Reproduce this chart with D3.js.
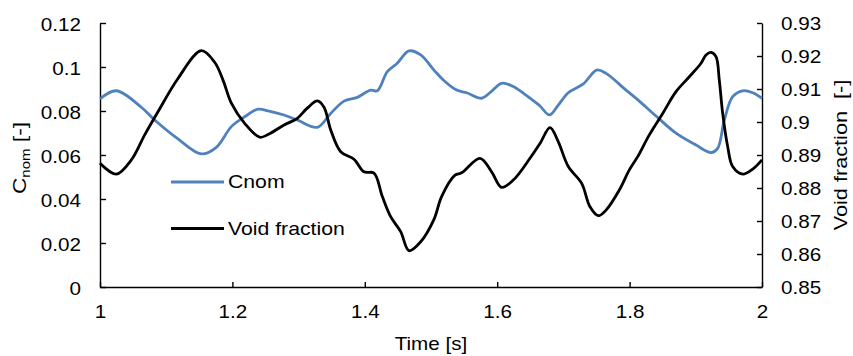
<!DOCTYPE html>
<html>
<head>
<meta charset="utf-8">
<script src="https://cdn.jsdelivr.net/npm/d3@7"></script>
<style>
  body { margin: 0; background: #fff; }
  svg text { font-family: "Liberation Sans", Arial, sans-serif; fill: #000; white-space: pre; }
</style>
</head>
<body>
<svg id="chart" width="853" height="356"></svg>
<script>
const cnomTime = [1.0, 1.0247, 1.0624, 1.0826, 1.1178, 1.153, 1.1757, 1.1984, 1.2185, 1.2387,
  1.2538, 1.278, 1.298, 1.3283, 1.3485, 1.3686, 1.3887, 1.4089, 1.419, 1.434,
  1.449, 1.4668, 1.4844, 1.5045, 1.5186, 1.5388, 1.554, 1.5766, 1.5891, 1.6067,
  1.6243, 1.6495, 1.6647, 1.6787, 1.6923, 1.7074, 1.7301, 1.7503, 1.7644, 1.7946,
  1.8147, 1.8399, 1.8701, 1.9003, 1.923, 1.933, 1.9431, 1.9557, 1.9708, 1.986, 2.0];
const cnomValues = [0.0855, 0.0892, 0.0817, 0.0759, 0.0673, 0.0605, 0.0635, 0.0729, 0.0774, 0.0808,
  0.0801, 0.0782, 0.0759, 0.0726, 0.0789, 0.0845, 0.0862, 0.0895, 0.0892, 0.0979,
  0.1017, 0.1073, 0.1055, 0.0986, 0.0941, 0.0895, 0.0883, 0.0858, 0.0883, 0.0926,
  0.0911, 0.0858, 0.0823, 0.0782, 0.0827, 0.0883, 0.0923, 0.0986, 0.0971, 0.0895,
  0.0845, 0.0777, 0.0699, 0.0645, 0.0611, 0.063, 0.0759, 0.0865, 0.0892, 0.0883, 0.0858];

const voidTime = [1.0, 1.0247, 1.0473, 1.0675, 1.0876, 1.1178, 1.153, 1.1732, 1.1858, 1.1984,
  1.2185, 1.2412, 1.2538, 1.278, 1.298, 1.3131, 1.3283, 1.3384, 1.3485, 1.3636,
  1.3837, 1.3988, 1.4139, 1.4265, 1.4391, 1.4542, 1.4668, 1.4844, 1.5045, 1.516,
  1.5363, 1.5463, 1.574, 1.5916, 1.6067, 1.6243, 1.6495, 1.6647, 1.6798, 1.6923,
  1.7074, 1.7276, 1.7402, 1.7528, 1.7644, 1.7845, 1.7996, 1.8122, 1.8298, 1.85,
  1.8701, 1.8902, 1.9079, 1.9154, 1.923, 1.9305, 1.9355, 1.9406, 1.9482, 1.9557,
  1.9708, 1.986, 2.0];
const voidValues = [0.8875, 0.8842, 0.8885, 0.8961, 0.9031, 0.9132, 0.9216, 0.9181, 0.9127, 0.9057,
  0.8996, 0.8954, 0.8962, 0.8991, 0.9011, 0.9042, 0.9064, 0.9045, 0.8976, 0.891,
  0.8887, 0.8849, 0.8845, 0.8774, 0.8713, 0.8668, 0.861, 0.8637, 0.8705, 0.8774,
  0.8839, 0.8846, 0.889, 0.8849, 0.8802, 0.8824, 0.889, 0.8935, 0.8983, 0.894,
  0.8865, 0.8814, 0.8743, 0.8716, 0.8733, 0.8794, 0.8855, 0.8895, 0.8961, 0.9026,
  0.9092, 0.9137, 0.9178, 0.9203, 0.9211, 0.9198, 0.9127, 0.9026, 0.8925, 0.8865,
  0.8842, 0.8857, 0.8885];

const timeTicks = [1, 1.2, 1.4, 1.6, 1.8, 2];
const cnomTicks = [0, 0.02, 0.04, 0.06, 0.08, 0.1, 0.12];
const voidTicks = [0.85, 0.86, 0.87, 0.88, 0.89, 0.9, 0.91, 0.92, 0.93];
const seriesNames = ["Cnom", "Void fraction"];
const seriesColors = ["#4f81bd", "#000000"];

const margin = { top: 23, right: 91, bottom: 69, left: 100 },
  width = 853 - margin.left - margin.right,
  height = 356 - margin.top - margin.bottom;

const fontSize = 17.5;
const stretch = 1.18; // text in the picture is drawn wider than plain Arial

const svg = d3.select("#chart");
const g = svg.append("g").attr("transform", `translate(${margin.left},${margin.top})`);

const x = d3.scaleLinear().domain([1, 2]).range([0, width]);
const yLeft = d3.scaleLinear().domain([0, 0.12]).range([height, 0]);
const yRight = d3.scaleLinear().domain([0.85, 0.93]).range([height, 0]);

// widen a text horizontally around its anchor point
function widen(sel) {
  sel.each(function () {
    const t = d3.select(this);
    const ax = +t.attr("x") || 0;
    t.attr("transform", `translate(${ax * (1 - stretch)},0) scale(${stretch},1)`);
  });
}

function styleAxis(axisG) {
  axisG.attr("font-family", null).attr("font-size", fontSize);
  axisG.select(".domain").attr("stroke", "#000").attr("stroke-width", 1.4);
  axisG.selectAll(".tick line").attr("stroke", "#000").attr("stroke-width", 1.4);
  axisG.selectAll(".tick text").attr("fill", "#000");
}

const xAxis = g.append("g")
  .attr("transform", `translate(0,${height})`)
  .call(d3.axisBottom(x).tickValues(timeTicks).tickFormat(d3.format(""))
    .tickSizeInner(-5).tickSizeOuter(0).tickPadding(19));
styleAxis(xAxis);
widen(xAxis.selectAll(".tick text"));

const leftAxis = g.append("g")
  .call(d3.axisLeft(yLeft).tickValues(cnomTicks).tickFormat(d3.format(""))
    .tickSizeInner(-6).tickSizeOuter(0).tickPadding(19));
styleAxis(leftAxis);
leftAxis.selectAll(".tick text").attr("dy", "0.42em");
widen(leftAxis.selectAll(".tick text"));

const rightAxis = g.append("g")
  .attr("transform", `translate(${width},0)`)
  .call(d3.axisRight(yRight).tickValues(voidTicks).tickFormat(d3.format(""))
    .tickSizeInner(-5).tickSizeOuter(0).tickPadding(19));
styleAxis(rightAxis);
rightAxis.selectAll(".tick text").attr("dy", "0.38em");
widen(rightAxis.selectAll(".tick text"));

const cnomData = cnomTime.map((t, i) => ({ t: t, v: cnomValues[i] }));
const voidData = voidTime.map((t, i) => ({ t: t, v: voidValues[i] }));

const cnomLine = d3.line().x((d) => x(d.t)).y((d) => yLeft(d.v)).curve(d3.curveCatmullRom);
const voidLine = d3.line().x((d) => x(d.t)).y((d) => yRight(d.v)).curve(d3.curveCatmullRom);

g.append("path")
  .datum(cnomData)
  .attr("d", cnomLine)
  .style("fill", "none")
  .style("stroke", seriesColors[0])
  .style("stroke-width", "2.8px")
  .style("stroke-linejoin", "round");

g.append("path")
  .datum(voidData)
  .attr("d", voidLine)
  .style("fill", "none")
  .style("stroke", seriesColors[1])
  .style("stroke-width", "2.8px")
  .style("stroke-linejoin", "round");

// legend
const legend = svg.append("g").attr("class", "legend");
seriesNames.forEach((name, i) => {
  const ly = 182 + i * 46.5;
  legend.append("line")
    .attr("x1", 171).attr("x2", 224)
    .attr("y1", ly).attr("y2", ly)
    .style("stroke", seriesColors[i])
    .style("stroke-width", "2.8px");
  legend.append("text")
    .attr("x", 228).attr("y", ly + 6.5)
    .attr("font-size", 18)
    .text(name);
});
widen(legend.selectAll("text"));

// axis titles
svg.append("text")
  .attr("x", 431).attr("y", 350)
  .attr("font-size", fontSize)
  .style("text-anchor", "middle")
  .text("Time [s]")
  .call(widen);

const leftTitle = svg.append("text")
  .attr("transform", `translate(26,158) rotate(-90) scale(1.2,1)`)
  .attr("font-size", 19)
  .style("text-anchor", "middle");
leftTitle.append("tspan").text("C");
leftTitle.append("tspan").attr("font-size", 12.5).attr("dy", 4).text("nom");
leftTitle.append("tspan").attr("dy", -4).text(" [-]");

svg.append("text")
  .attr("transform", `translate(847,155) rotate(-90) scale(1.24,1)`)
  .attr("font-size", 17.5)
  .style("text-anchor", "middle")
  .text("Void fraction  [-]");
</script>
</body>
</html>
